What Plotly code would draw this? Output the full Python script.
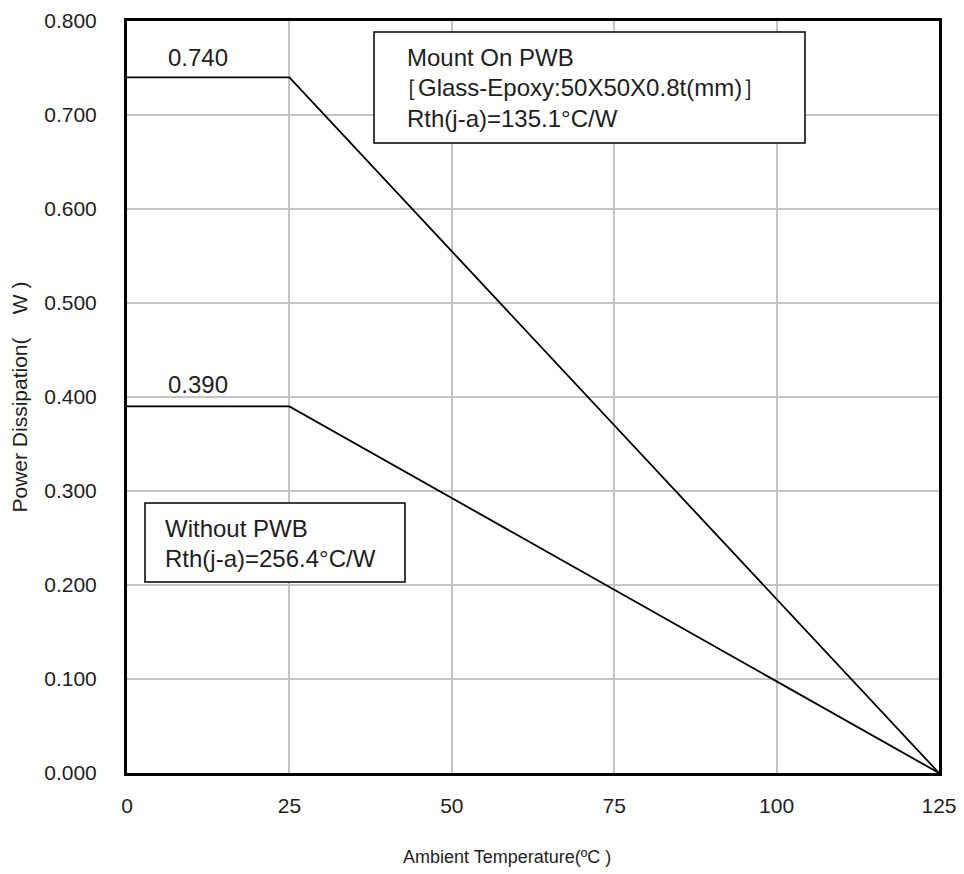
import plotly.graph_objects as go

temps = [0, 25, 125]
pd_mount = [0.740, 0.740, 0.0]
pd_without = [0.390, 0.390, 0.0]
x_ticks = [0, 25, 50, 75, 100, 125]
y_ticks = [0.0, 0.1, 0.2, 0.3, 0.4, 0.5, 0.6, 0.7, 0.8]
y_tick_labels = ["0.000", "0.100", "0.200", "0.300", "0.400", "0.500", "0.600", "0.700", "0.800"]

FONT = "Liberation Sans, Arial, sans-serif"
TXT = "#1e1e1e"

TOP = 21      # page y of plot-area top
BOTTOM = 773  # page y of plot-area bottom
LEFT = 127
RIGHT = 939

fig = go.Figure()
fig.add_trace(go.Scatter(x=temps, y=pd_mount, mode="lines",
                         line=dict(color="black", width=1.8), showlegend=False))
fig.add_trace(go.Scatter(x=temps, y=pd_without, mode="lines",
                         line=dict(color="black", width=1.8), showlegend=False))

# page body has an 8px margin: size the figure so the plot area lands on the reference pixels
fig.update_layout(
    width=956, height=866,
    margin=dict(l=LEFT - 8, r=956 + 8 - RIGHT, t=TOP - 8, b=866 + 8 - BOTTOM),
    plot_bgcolor="white", paper_bgcolor="white",
    font=dict(family=FONT, size=21, color=TXT),
    xaxis=dict(range=[0, 125], tickvals=x_ticks, ticktext=[str(v) for v in x_ticks],
               showgrid=True, gridcolor="#c4c4c4", gridwidth=1.8,
               showline=True, linecolor="black", linewidth=3, mirror=True,
               ticks="", ticklabelstandoff=12, zeroline=False, automargin=False,
               ticklabeloverflow="allow"),
    yaxis=dict(range=[0, 0.8], tickvals=y_ticks, ticktext=y_tick_labels,
               showgrid=True, gridcolor="#c4c4c4", gridwidth=1.8,
               showline=True, linecolor="black", linewidth=3, mirror=True,
               ticks="", ticklabelstandoff=23, zeroline=False, automargin=False,
               ticklabeloverflow="allow",
               title=dict(text="Power Dissipation(    W )", standoff=14,
                          font=dict(size=21, family=FONT, color=TXT))),
)

def px2paper(px, py):
    return (px - LEFT) / (RIGHT - LEFT), (BOTTOM - py) / (BOTTOM - TOP)

shapes = []
for (x0, y0, x1, y1) in [(374, 32, 805, 143), (145, 503, 405, 582)]:
    a0, b1 = px2paper(x0, y0)
    a1, b0 = px2paper(x1, y1)
    shapes.append(dict(type="rect", xref="paper", yref="paper", x0=a0, x1=a1, y0=b0, y1=b1,
                       line=dict(color="black", width=1.5), fillcolor="white", layer="above"))
fig.update_layout(shapes=shapes)

def add_text(px, py, text, size=24):
    x, y = px2paper(px, py)
    fig.add_annotation(x=x, y=y, xref="paper", yref="paper", text=text, showarrow=False,
                       xanchor="left", yanchor="middle", xshift=-2,
                       font=dict(size=size, family=FONT, color=TXT))

add_text(407, 58, "Mount On PWB")
add_text(394, 88, "［Glass-Epoxy:50X50X0.8t(mm)］")
add_text(407, 118, "Rth(j-a)=135.1°C/W")
add_text(165, 528, "Without PWB")
add_text(165, 558, "Rth(j-a)=256.4°C/W")
# x-axis title (placed slightly left of centre as in the reference)
add_text(403, 857, "Ambient Temperature(ºC )", size=18)

fig.add_annotation(x=11, y=pd_mount[0], text="0.740", showarrow=False,
                   yanchor="bottom", yshift=4, font=dict(size=24, family=FONT, color=TXT))
fig.add_annotation(x=11, y=pd_without[0], text="0.390", showarrow=False,
                   yanchor="bottom", yshift=6, font=dict(size=24, family=FONT, color=TXT))

fig.write_html("out.html")
